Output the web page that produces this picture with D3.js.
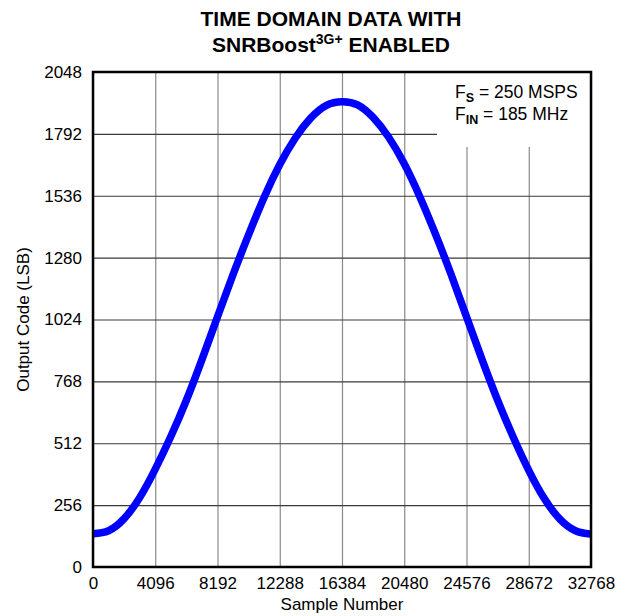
<!DOCTYPE html>
<html>
<head>
<meta charset="utf-8">
<script src="https://cdn.jsdelivr.net/npm/d3@7"></script>
<style>
  html, body { margin: 0; padding: 0; background: #fff; }
  svg { display: block; font-family: "Liberation Sans", Arial, sans-serif; }
</style>
</head>
<body>
<svg id="chart" width="628" height="616"></svg>
<script>
// ---- data ----
const sampleNumber = [0, 1024, 2048, 3072, 4096, 5120, 6144, 7168, 8192, 9216, 10240, 11264,
  12288, 13312, 14336, 15360, 16384, 17408, 18432, 19456, 20480, 21504, 22528, 23552,
  24576, 25600, 26624, 27648, 28672, 29696, 30720, 31744, 32768];
const outputCode = [138, 150, 200, 287, 405, 540, 690, 858, 1035, 1210, 1375, 1530,
  1665, 1775, 1858, 1910, 1925, 1912, 1860, 1778, 1668, 1532, 1378, 1212,
  1035, 858, 690, 538, 400, 283, 198, 150, 136];
const xTicks = [0, 4096, 8192, 12288, 16384, 20480, 24576, 28672, 32768];
const yTicks = [0, 256, 512, 768, 1024, 1280, 1536, 1792, 2048];

const margin = { left: 93, top: 72, right: 37, bottom: 49 };
const W = 628, H = 616;
const pw = W - margin.left - margin.right;  // 498
const ph = H - margin.top - margin.bottom;  // 495

const svg = d3.select("#chart");
const g = svg.append("g").attr("transform", `translate(${margin.left},${margin.top})`);

const x = d3.scaleLinear().domain([0, 32768]).range([0, pw]);
const y = d3.scaleLinear().domain([0, 2048]).range([ph, 0]);

// vertical gridlines (grey)
g.append("g")
  .attr("transform", `translate(0,${ph})`)
  .call(d3.axisBottom(x).tickValues(xTicks).tickSize(-ph).tickFormat(""))
  .call(s => s.select(".domain").remove())
  .call(s => s.selectAll("line").attr("stroke", "#8a8a8a").attr("stroke-width", 1.2));

// horizontal gridlines (dark)
g.append("g")
  .call(d3.axisLeft(y).tickValues(yTicks).tickSize(-pw).tickFormat(""))
  .call(s => s.select(".domain").remove())
  .call(s => s.selectAll("line").attr("stroke", "#3a3a3a").attr("stroke-width", 1.2));

// legend box (white, covers grid)
g.append("rect")
  .attr("x", 344).attr("y", 0)
  .attr("width", pw - 344).attr("height", 75)
  .attr("fill", "#fff");

// data curve
svg.append("clipPath").attr("id", "clip")
  .append("rect").attr("x", 0).attr("y", 0).attr("width", pw).attr("height", ph);

g.append("path")
  .datum(sampleNumber.map((s, i) => [s, outputCode[i]]))
  .attr("clip-path", "url(#clip)")
  .attr("fill", "none")
  .attr("stroke", "#0000ff")
  .attr("stroke-width", 7.5)
  .attr("d", d3.line().x(d => x(d[0])).y(d => y(d[1])).curve(d3.curveNatural));

// frame
g.append("rect")
  .attr("x", 0).attr("y", 0).attr("width", pw).attr("height", ph)
  .attr("fill", "none").attr("stroke", "#000").attr("stroke-width", 2.5);

// tick labels
g.append("g")
  .attr("transform", `translate(0,${ph})`)
  .call(d3.axisBottom(x).tickValues(xTicks).tickSize(0).tickPadding(10).tickFormat(d3.format("d")))
  .call(s => s.select(".domain").remove())
  .call(s => s.selectAll("text").attr("font-size", 17).attr("fill", "#000")
    .attr("font-family", "'Liberation Sans', Arial, sans-serif"));

g.append("g")
  .call(d3.axisLeft(y).tickValues(yTicks).tickSize(0).tickPadding(11).tickFormat(d3.format("d")))
  .call(s => s.select(".domain").remove())
  .call(s => s.selectAll("text").attr("font-size", 17).attr("fill", "#000")
    .attr("font-family", "'Liberation Sans', Arial, sans-serif"));

// axis titles
svg.append("text")
  .attr("x", margin.left + pw / 2).attr("y", 610)
  .attr("text-anchor", "middle").attr("font-size", 17)
  .text("Sample Number");

svg.append("text")
  .attr("transform", `translate(29,${margin.top + ph / 2}) rotate(-90)`)
  .attr("text-anchor", "middle").attr("font-size", 17)
  .text("Output Code (LSB)");

// chart title
const t = svg.append("text").attr("x", 331).attr("text-anchor", "middle")
  .attr("font-weight", "bold").attr("font-size", 21);
t.append("tspan").attr("x", 331).attr("y", 26).text("TIME DOMAIN DATA WITH");
const t2 = svg.append("text").attr("x", 331).attr("y", 52).attr("text-anchor", "middle")
  .attr("font-weight", "bold").attr("font-size", 21);
t2.append("tspan").text("SNRBoost");
t2.append("tspan").attr("font-size", 14).attr("dy", -8).text("3G+");
t2.append("tspan").attr("dy", 8).text(" ENABLED");

// legend text
const l1 = svg.append("text").attr("x", 455).attr("y", 98).attr("font-size", 17.5);
l1.append("tspan").text("F");
l1.append("tspan").attr("font-size", 12.5).attr("font-weight", "bold").attr("dy", 4).text("S");
l1.append("tspan").attr("dy", -4).text(" = 250 MSPS");
const l2 = svg.append("text").attr("x", 455).attr("y", 120).attr("font-size", 17.5);
l2.append("tspan").text("F");
l2.append("tspan").attr("font-size", 12.5).attr("font-weight", "bold").attr("dy", 4).text("IN");
l2.append("tspan").attr("dy", -4).text(" = 185 MHz");
</script>
</body>
</html>
